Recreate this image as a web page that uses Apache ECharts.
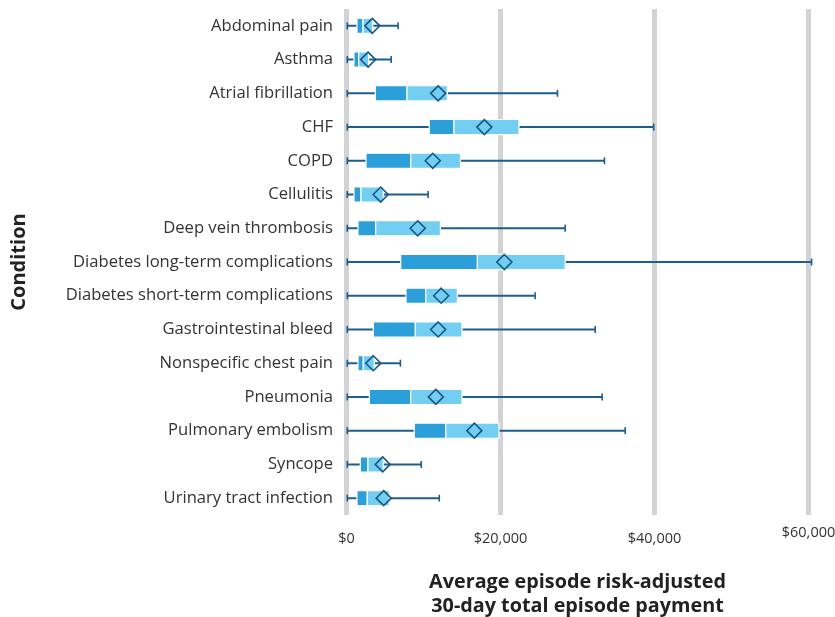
<!DOCTYPE html>
<html>
<head>
<meta charset="utf-8">
<script src="https://cdn.jsdelivr.net/npm/echarts@6/dist/echarts.min.js"></script>
<style>html,body{margin:0;padding:0;background:#fff}#c{width:835px;height:617px}</style>
</head>
<body>
<div id="c"></div>
<script>
var categories = ["Abdominal pain","Asthma","Atrial fibrillation","CHF","COPD","Cellulitis","Deep vein thrombosis","Diabetes long-term complications","Diabetes short-term complications","Gastrointestinal bleed","Nonspecific chest pain","Pneumonia","Pulmonary embolism","Syncope","Urinary tract infection"];
var minVals  = [100,100,100,100,100,100,100,100,100,100,100,100,100,100,100];
var q1Vals   = [1360,970,3740,10750,2530,970,1490,7040,7730,3480,1490,2960,8800,1790,1360];
var medVals  = [2140,1580,7860,13960,8340,1880,3790,17000,10300,8940,2180,8340,12900,2790,2700];
var q3Vals   = [3400,2880,13100,22400,14800,4780,12200,28400,14400,15000,3610,15000,19800,4780,5560];
var maxVals  = [6700,5800,27400,39900,33500,10600,28400,60400,24500,32300,7000,33200,36200,9700,12050];
var meanVals = [3350,2800,11900,17900,11200,4440,9250,20500,12300,11900,3480,11600,16600,4700,4830];
var xTicks = [0,20000,40000,60000];
var xTickLabels = ["$0","$20,000","$40,000","$60,000"];

var data = categories.map(function(c,i){
  return [i, minVals[i], q1Vals[i], medVals[i], q3Vals[i], maxVals[i], meanVals[i]];
});

var chart = echarts.init(document.getElementById('c'));
var FONT = '"Open Sans"';
chart.setOption({
  animation: false,
  grid: {left: 346.5, right: 26.5, top: 9, bottom: 102, containLabel: false, outerBoundsMode: 'none'},
  xAxis: {
    type: 'value', min: 0, max: 60000, interval: 20000,
    axisLine: {show: false}, axisTick: {show: false},
    splitLine: {show: true, showMinLine: true, showMaxLine: true, lineStyle: {color: '#d3d3d5', width: 5}},
    axisLabel: {
      margin: 10,
      formatter: function(v){
        var i = xTicks.indexOf(v);
        var t = i >= 0 ? xTickLabels[i] : '';
        return v === 60000 ? '{hi|' + t + '}' : '{n|' + t + '}';
      },
      rich: {
        n: {fontFamily: FONT, fontSize: 14.5, color: '#333', lineHeight: 27},
        hi: {fontFamily: FONT, fontSize: 14.5, color: '#333', lineHeight: 15}
      }
    },
    name: 'Average episode risk-adjusted\n30-day total episode payment',
    nameLocation: 'middle', nameGap: 55,
    nameTextStyle: {fontFamily: FONT, fontWeight: 'bold', fontSize: 19.8, color: '#222', lineHeight: 24}
  },
  yAxis: {
    type: 'category', data: categories, inverse: true,
    axisLine: {show: false}, axisTick: {show: false}, splitLine: {show: false},
    axisLabel: {margin: 13.5, fontFamily: FONT, fontSize: 16.6, color: '#333'},
    name: 'Condition', nameLocation: 'middle', nameGap: 317, nameRotate: 90,
    nameTextStyle: {fontFamily: FONT, fontWeight: 'bold', fontSize: 20, color: '#222'}
  },
  series: [{
    type: 'custom',
    data: data,
    encode: {x: [1,2,3,4,5,6], y: 0},
    renderItem: function(params, api){
      var ci = api.value(0);
      var band = api.size([0,1])[1];
      var pMin = api.coord([api.value(1), ci]);
      var pQ1 = api.coord([api.value(2), ci]);
      var pMed = api.coord([api.value(3), ci]);
      var pQ3 = api.coord([api.value(4), ci]);
      var pMax = api.coord([api.value(5), ci]);
      var pMean = api.coord([api.value(6), ci]);
      var y = pMin[1];
      var h = band * 0.45;
      var capH = 3.5;
      var d = 7.5;
      var lineColor = '#1d5e8f';
      return {
        type: 'group',
        children: [
          {type: 'line', shape: {x1: pMin[0], y1: y, x2: pMax[0], y2: y}, style: {stroke: lineColor, lineWidth: 2}},
          {type: 'line', shape: {x1: pMin[0], y1: y - capH, x2: pMin[0], y2: y + capH}, style: {stroke: lineColor, lineWidth: 1.6}},
          {type: 'line', shape: {x1: pMax[0], y1: y - capH, x2: pMax[0], y2: y + capH}, style: {stroke: lineColor, lineWidth: 1.6}},
          {type: 'rect', shape: {x: pQ1[0], y: y - h/2, width: pMed[0] - pQ1[0], height: h}, style: {fill: '#2a9fd9', stroke: '#ffffff', lineWidth: 1.2}},
          {type: 'rect', shape: {x: pMed[0], y: y - h/2, width: pQ3[0] - pMed[0], height: h}, style: {fill: '#72cff1', stroke: '#ffffff', lineWidth: 1.2}},
          {type: 'polygon', shape: {points: [[pMean[0], y - d], [pMean[0] + d, y], [pMean[0], y + d], [pMean[0] - d, y]]}, style: {fill: 'none', stroke: '#1a5586', lineWidth: 1.6}}
        ]
      };
    }
  }]
});
</script>
</body>
</html>
